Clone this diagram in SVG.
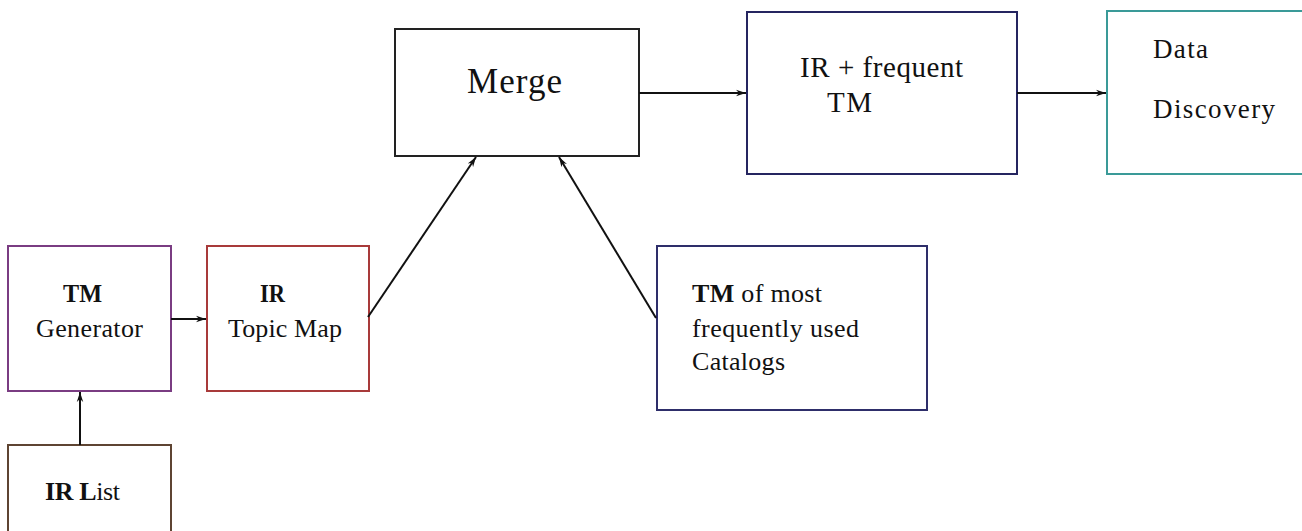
<svg xmlns="http://www.w3.org/2000/svg" width="1302" height="531" viewBox="0 0 1302 531">
  <defs>
    <marker id="arr" viewBox="0 0 10 8" refX="10" refY="4" markerWidth="10" markerHeight="8" markerUnits="userSpaceOnUse" orient="auto">
      <path d="M0,0.8 L10,4 L0,7.2 L3,4 Z" fill="#111"/>
    </marker>
    <style>
      .box { fill: #fff; stroke-width: 2; }
      .t { font-family: "Liberation Serif", "Times New Roman", serif; fill: #111; }
      .conn line { stroke: #111; stroke-width: 2; marker-end: url(#arr); }
    </style>
  </defs>
  <rect width="1302" height="531" fill="#fff"/>

  <g id="tm-generator">
    <rect class="box" x="8" y="246" width="163" height="145" stroke="#7a3c82"/>
    <text class="t" x="63" y="302" font-size="25" font-weight="bold" textLength="39" lengthAdjust="spacingAndGlyphs">TM</text>
    <text class="t" x="36" y="337" font-size="26" textLength="107" lengthAdjust="spacing">Generator</text>
  </g>

  <g id="ir-topic-map">
    <rect class="box" x="207" y="246" width="162" height="145" stroke="#a83a3a"/>
    <text class="t" x="260" y="302" font-size="25" font-weight="bold" textLength="25" lengthAdjust="spacingAndGlyphs">IR</text>
    <text class="t" x="228" y="337" font-size="26" textLength="114" lengthAdjust="spacing">Topic Map</text>
  </g>

  <g id="ir-list">
    <rect class="box" x="8" y="445" width="163" height="100" stroke="#5e4432"/>
    <text class="t" x="45" y="500" font-size="26" textLength="75" lengthAdjust="spacing"><tspan font-weight="bold">IR L</tspan>ist</text>
  </g>

  <g id="merge">
    <rect class="box" x="395" y="29" width="244" height="127" stroke="#222"/>
    <text class="t" x="467" y="93" font-size="35" textLength="95" lengthAdjust="spacing">Merge</text>
  </g>

  <g id="ir-frequent-tm">
    <rect class="box" x="747" y="12" width="270" height="162" stroke="#252560"/>
    <text class="t" x="800" y="77" font-size="29" textLength="163" lengthAdjust="spacing">IR + frequent</text>
    <text class="t" x="827" y="112" font-size="29" textLength="45" lengthAdjust="spacing">TM</text>
  </g>

  <g id="data-discovery">
    <rect class="box" x="1107" y="11" width="210" height="163" stroke="#3a9a98"/>
    <text class="t" x="1153" y="58" font-size="27" textLength="55" lengthAdjust="spacing">Data</text>
    <text class="t" x="1153" y="118" font-size="27" textLength="122" lengthAdjust="spacing">Discovery</text>
  </g>

  <g id="tm-frequent-catalogs">
    <rect class="box" x="657" y="246" width="270" height="164" stroke="#2e2e6a"/>
    <text class="t" x="692" y="302" font-size="26" textLength="130" lengthAdjust="spacing"><tspan font-weight="bold">TM</tspan> of most</text>
    <text class="t" x="692" y="337" font-size="26" textLength="167" lengthAdjust="spacing">frequently used</text>
    <text class="t" x="692" y="370" font-size="26" textLength="93" lengthAdjust="spacing">Catalogs</text>
  </g>

  <g id="connectors" class="conn">
    <line x1="80" y1="445" x2="80" y2="392"/>
    <line x1="171" y1="319" x2="206" y2="319"/>
    <line x1="368" y1="317" x2="476" y2="157"/>
    <line x1="656" y1="318" x2="559" y2="157"/>
    <line x1="639" y1="93" x2="746" y2="93"/>
    <line x1="1017" y1="93" x2="1106" y2="93"/>
  </g>
</svg>
